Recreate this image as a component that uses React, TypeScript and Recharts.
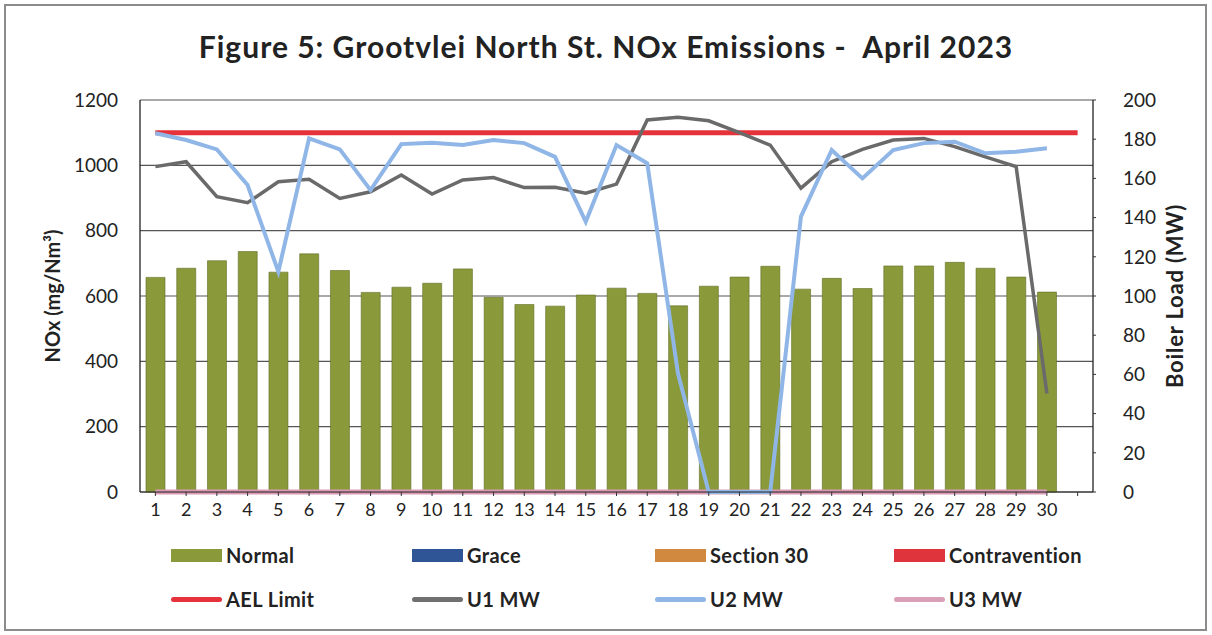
import React from 'react';
import { ComposedChart, Bar, Line, XAxis, YAxis, CartesianGrid } from 'recharts';

// days of April 2023 (31st slot is kept empty like the source chart)
const days = [
  '1', '2', '3', '4', '5', '6', '7', '8', '9', '10',
  '11', '12', '13', '14', '15', '16', '17', '18', '19', '20',
  '21', '22', '23', '24', '25', '26', '27', '28', '29', '30', '31',
];

// daily NOx, mg/Nm3 (all in "Normal" band)
const normalNox = [
  657, 685, 708, 736, 673, 729, 678, 611, 627, 639,
  683, 596, 574, 569, 603, 624, 608, 570, 630, 658,
  691, 621, 654, 623, 692, 692, 703, 685, 658, 612, null,
];

const AEL_LIMIT = 1100;

// boiler loads, MW
const u1Mw = [
  166, 168.5, 150.7, 147.6, 158.3, 159.5, 149.8, 153.2, 161.7, 152,
  159.2, 160.4, 155.3, 155.5, 152.4, 157.1, 189.8, 191.2, 189.4, 183.3,
  177, 155, 168.5, 174.8, 179.6, 180.4, 176.2, 171, 166, 50.3, null,
];
const u2Mw = [
  183, 179.6, 174.8, 156.6, 112.4, 180.4, 174.8, 154, 177.5, 178.2,
  177, 179.6, 178, 171, 137.9, 177, 167.7, 60.5, 0, 0,
  0, 140.5, 174.5, 160, 174.5, 178, 178.7, 172.8, 173.6, 175.4, null,
];
const u3Mw = [
  0, 0, 0, 0, 0, 0, 0, 0, 0, 0,
  0, 0, 0, 0, 0, 0, 0, 0, 0, 0,
  0, 0, 0, 0, 0, 0, 0, 0, 0, 0, null,
];

const leftTicks = [0, 200, 400, 600, 800, 1000, 1200];
const rightTicks = [0, 20, 40, 60, 80, 100, 120, 140, 160, 180, 200];

const FONT = 'Lato, "Open Sans", sans-serif';

const legendItems = [
  { name: 'Normal', color: '#8a9a3b', kind: 'box' },
  { name: 'Grace', color: '#2f5597', kind: 'box' },
  { name: 'Section 30', color: '#d0893e', kind: 'box' },
  { name: 'Contravention', color: '#e0343c', kind: 'box' },
  { name: 'AEL Limit', color: '#e5323b', kind: 'line' },
  { name: 'U1 MW', color: '#707070', kind: 'line' },
  { name: 'U2 MW', color: '#8fb6e6', kind: 'line' },
  { name: 'U3 MW', color: '#d9a0b8', kind: 'line' },
];
const legendCols = [171, 412, 655, 894];

export default function App() {
  const data = days.map((d, i) => ({
    day: d,
    normal: normalNox[i],
    ael: AEL_LIMIT,
    u1: u1Mw[i],
    u2: u2Mw[i],
    u3: u3Mw[i],
  }));

  const tickStyle = { fill: '#222', fontSize: 19, fontFamily: FONT };

  return (
    <div style={{ position: 'absolute', left: 0, top: 0, width: 1212, height: 635, background: '#fff', fontFamily: FONT }}>
      <div style={{ position: 'absolute', left: 4, top: 4, width: 1203, height: 627, border: '2px solid #8c8c8c', boxSizing: 'border-box' }} />
      <div style={{ position: 'absolute', left: 0, top: 27, width: 1212, textAlign: 'center', fontSize: 30, fontWeight: 700, letterSpacing: 1, color: '#222', whiteSpace: 'pre', lineHeight: '38px' }}>
        {'Figure 5: Grootvlei North St. NOx Emissions -  April 2023'}
      </div>

      <ComposedChart width={1212} height={635} data={data} margin={{ top: 100, right: 59, bottom: 113, left: 80 }}>
        <CartesianGrid yAxisId="left" vertical={false} stroke="#555" strokeWidth={1.2} />
        <XAxis
          dataKey="day"
          interval={0}
          tick={{ ...tickStyle, fontSize: 18 }}
          tickFormatter={(v) => (v === '31' ? '' : v)}
          tickLine={{ stroke: '#333' }}
          tickSize={4}
          tickMargin={7}
          axisLine={{ stroke: '#222', strokeWidth: 1 }}
          height={30}
        />
        <YAxis
          yAxisId="left"
          domain={[0, 1200]}
          ticks={leftTicks}
          tick={tickStyle}
          tickLine={false}
          tickMargin={16}
          axisLine={{ stroke: '#222', strokeWidth: 1.3 }}
          width={60}
          label={({ viewBox }: any) => (
            <text
              x={52}
              y={viewBox.y + viewBox.height / 2}
              transform={`rotate(-90, 52, ${viewBox.y + viewBox.height / 2})`}
              textAnchor="middle"
              dominantBaseline="central"
              style={{ fontSize: 20, fontWeight: 700, fontFamily: FONT, fill: '#222' }}
            >
              NOx (mg/Nm³)
            </text>
          )}
        />
        <YAxis
          yAxisId="right"
          orientation="right"
          domain={[0, 200]}
          ticks={rightTicks}
          tick={tickStyle}
          tickLine={{ stroke: '#333' }}
          tickSize={3}
          tickMargin={27}
          axisLine={{ stroke: '#222', strokeWidth: 1.3 }}
          width={60}
          label={({ viewBox }: any) => (
            <text
              x={1174}
              y={viewBox.y + viewBox.height / 2}
              transform={`rotate(-90, 1174, ${viewBox.y + viewBox.height / 2})`}
              textAnchor="middle"
              dominantBaseline="central"
              style={{ fontSize: 22, fontWeight: 700, letterSpacing: 0.8, fontFamily: FONT, fill: '#222' }}
            >
              Boiler Load (MW)
            </text>
          )}
        />
        <Bar yAxisId="left" dataKey="normal" name="Normal" fill="#8a9a3b" stroke="#5f6b22" strokeWidth={0.6} barSize={19} isAnimationActive={false} />
        <Line yAxisId="left" dataKey="ael" name="AEL Limit" stroke="#e5323b" strokeWidth={5} dot={false} isAnimationActive={false} />
        <Line yAxisId="right" dataKey="u3" name="U3 MW" stroke="#d99ab4" strokeWidth={5} dot={false} isAnimationActive={false} />
        <Line yAxisId="right" dataKey="u1" name="U1 MW" stroke="#6a6a6a" strokeWidth={3.5} dot={false} isAnimationActive={false} />
        <Line yAxisId="right" dataKey="u2" name="U2 MW" stroke="#8fb6e6" strokeWidth={4} dot={false} isAnimationActive={false} />
      </ComposedChart>

      {legendItems.map((it, i) => {
        const col = legendCols[i % 4];
        const top = i < 4 ? 543 : 587;
        return (
          <div key={it.name} style={{ position: 'absolute', left: col, top, height: 24, display: 'flex', alignItems: 'center' }}>
            <div
              style={{
                width: 51,
                height: it.kind === 'box' ? 13 : 5,
                background: it.color,
                borderRadius: it.kind === 'line' ? 3 : 0,
                marginRight: 4,
              }}
            />
            <span style={{ fontSize: 20, fontWeight: 700, letterSpacing: 0.4, color: '#222' }}>{it.name}</span>
          </div>
        );
      })}
    </div>
  );
}
